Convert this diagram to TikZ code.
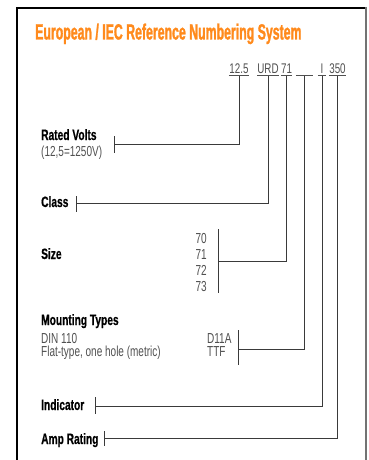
\documentclass[tikz,border=0pt]{standalone}
\usepackage{fontspec}
\setmainfont{Liberation Sans}
\newfontfamily\titlefont[FakeStretch=0.56, FakeBold=1.2]{Liberation Sans}
\newfontfamily\labfont[FakeStretch=0.68, FakeBold=0.6]{Liberation Sans}
\newfontfamily\regfont[FakeStretch=0.69]{Liberation Sans}
\newfontfamily\codefont[FakeStretch=0.70]{Liberation Sans}
\definecolor{titleorange}{HTML}{FF8A1C}
\definecolor{txtgray}{HTML}{505050}
\definecolor{linegray}{HTML}{3A3A3A}
\begin{document}
\begin{tikzpicture}[x=1pt,y=-1pt,
  lbl/.style={anchor=base west, inner sep=0, text=black, font={\fontsize{15}{17}\labfont\bfseries}},
  reg/.style={anchor=base west, inner sep=0, text=txtgray, font={\fontsize{14.5}{16}\regfont}},
  regr/.style={anchor=base east, inner sep=0, text=txtgray, font={\fontsize{14.5}{16}\regfont}},
  code/.style={anchor=south, inner xsep=0pt, inner ysep=1.5pt, text=txtgray, font={\fontsize{14}{15}\codefont}},
  conn/.style={draw=linegray, line width=0.9pt},
  uline/.style={draw=txtgray, line width=0.8pt}
]
\useasboundingbox (0,0) rectangle (368,460);
% frame
\draw[line width=2pt, black] (16.5,460) -- (16.5,8) -- (365,8);
\draw[line width=1.2pt, black!55] (366,7) -- (366,460);

% title
\node[anchor=base west, inner sep=0, text=titleorange, font={\fontsize{22}{24}\titlefont\bfseries}] (title) at (35,39.5) {European / IEC Reference Numbering System};

% code
\node[code, minimum width=20pt] (c1) at (239,75.5) {12.5};
\node[code, minimum width=20pt] (c2) at (268,75.5) {URD};
\node[code, minimum width=11pt] (c3) at (286.5,75.5) {71};
\node[code, minimum width=17pt] (c4) at (304.5,75.5) {};
\node[code, minimum width=8pt] (c5) at (322,75.5) {I};
\node[code, minimum width=17pt] (c6) at (337.5,75.5) {350};
\foreach \c in {c1,c2,c3,c4,c5,c6}
  \draw[uline] (\c.south west) -- (\c.south east);

% labels
\node[lbl] (rv) at (41,140) {Rated Volts};
\node[reg] (rvs) at (41,156) {(12,5=1250V)};
\node[lbl] (cl) at (41,207) {Class};
\node[lbl] (sz) at (41,259) {Size};
\node[regr] (s70) at (207,243) {70};
\node[regr] (s71) at (207,259) {71};
\node[regr] (s72) at (207,275) {72};
\node[regr] (s73) at (207,291) {73};
\node[lbl] (mt) at (41,325) {Mounting Types};
\node[reg] (din) at (41,343) {DIN 110};
\node[reg] (flat) at (41,356) {Flat-type, one hole (metric)};
\node[reg] (d11) at (207,343) {D11A};
\node[reg] (ttf) at (207,356) {TTF};
\node[lbl] (ind) at (41,410) {Indicator};
\node[lbl] (amp) at (41,444) {Amp Rating};

% tick coordinates
\coordinate (k1) at (114,144);
\coordinate (k2) at (76,203);
\coordinate (k3) at (218,261);
\coordinate (k4) at (238,349);
\coordinate (k5) at (95,406);
\coordinate (k6) at (104,438);

% ticks / bars
\draw[conn] ([yshift=8pt]k1) -- ([yshift=-9pt]k1);
\draw[conn] ([yshift=7pt]k2) -- ([yshift=-9pt]k2);
\draw[conn] ([yshift=32pt]k3) -- ([yshift=-32pt]k3);
\draw[conn] ([yshift=19pt]k4) -- ([yshift=-16pt]k4);
\draw[conn] ([yshift=9pt]k5) -- ([yshift=-8pt]k5);
\draw[conn] ([yshift=7pt]k6) -- ([yshift=-8pt]k6);

% connectors
\draw[conn] (c1.south) |- (k1);
\draw[conn] (c2.south) |- (k2);
\draw[conn] (c3.south) |- (k3);
\draw[conn] (c4.south) |- (k4);
\draw[conn] (c5.south) |- (k5);
\draw[conn] (c6.south) |- (k6);
\end{tikzpicture}
\end{document}
